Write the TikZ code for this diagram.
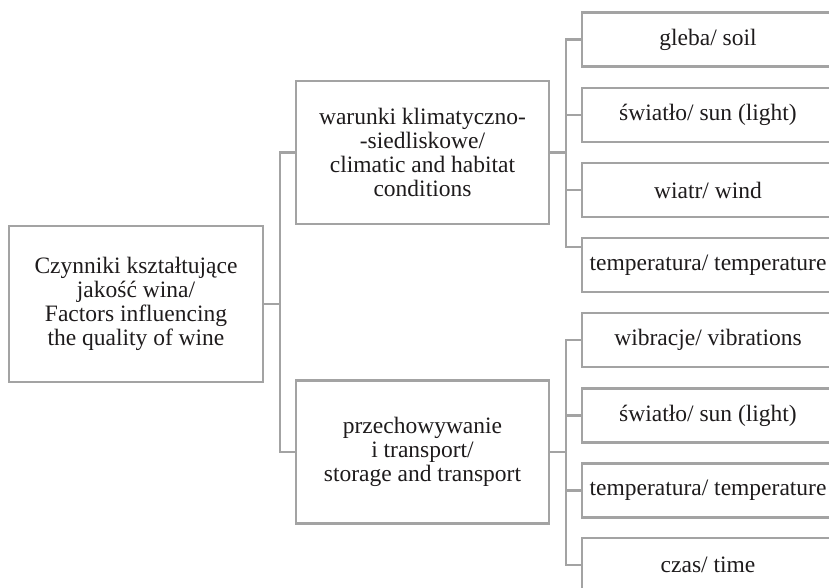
\documentclass[tikz,border=0pt]{standalone}
\usepackage{fontspec}
\setmainfont{Liberation Serif}
\definecolor{linegray}{RGB}{163,163,163}
\definecolor{textgray}{RGB}{30,27,28}
\tikzset{
  x=1pt,y=-1pt,
  box/.style={draw=linegray, line width=2.7pt, fill=white, align=center, inner sep=0pt,
     text=textgray, font=\fontsize{23.5}{24}\selectfont},
  mainbox/.style={box, minimum width=254pt, minimum height=156pt},
  midbox/.style={box, minimum width=253pt, minimum height=143pt},
  leafbox/.style={box, minimum width=252pt, minimum height=54pt},
  conn/.style={draw=linegray, line width=2.7pt}
}
\begin{document}
\begin{tikzpicture}
\useasboundingbox (0,0) rectangle (829,588);
\node[mainbox] (main) at (136,304) {Czynniki kształtujące\\jakość wina/\\Factors influencing\\the quality of wine};
\node[midbox] (m1) at (422.5,152.5) {warunki klimatyczno-\\-siedliskowe/\\climatic and habitat\\conditions};
\node[midbox] (m2) at (422.5,452) {przechowywanie\\i transport/\\storage and transport};
\node[leafbox] (r1) at (708,39.5) {gleba/ soil};
\node[leafbox] (r2) at (708,115) {światło/ sun (light)};
\node[leafbox] (r3) at (708,190) {wiatr/ wind};
\node[leafbox] (r4) at (708,265) {temperatura/ temperature};
\node[leafbox] (r5) at (708,340) {wibracje/ vibrations};
\node[leafbox] (r6) at (708,415.5) {światło/ sun (light)};
\node[leafbox] (r7) at (708,490.5) {temperatura/ temperature};
\node[leafbox] (r8) at (708,565) {czas/ time};
\coordinate (t) at (280,304);
\coordinate (ja) at (566,152.5);
\coordinate (jb) at (566,452);
\coordinate (r4in) at (582,247);
\draw[conn] (main.east) -- (t);
\draw[conn] (m1.west) -| (t) |- (m2.west);
\draw[conn] (m1.east) -- (ja);
\draw[conn] (r1.west) -| (ja) |- (r4in);
\draw[conn] (r2.west) -- (r2.west -| ja);
\draw[conn] (r3.west) -- (r3.west -| ja);
\draw[conn] (m2.east) -- (jb);
\draw[conn] (r5.west) -| (jb) |- (r8.west);
\draw[conn] (r6.west) -- (r6.west -| jb);
\draw[conn] (r7.west) -- (r7.west -| jb);
\end{tikzpicture}
\end{document}
